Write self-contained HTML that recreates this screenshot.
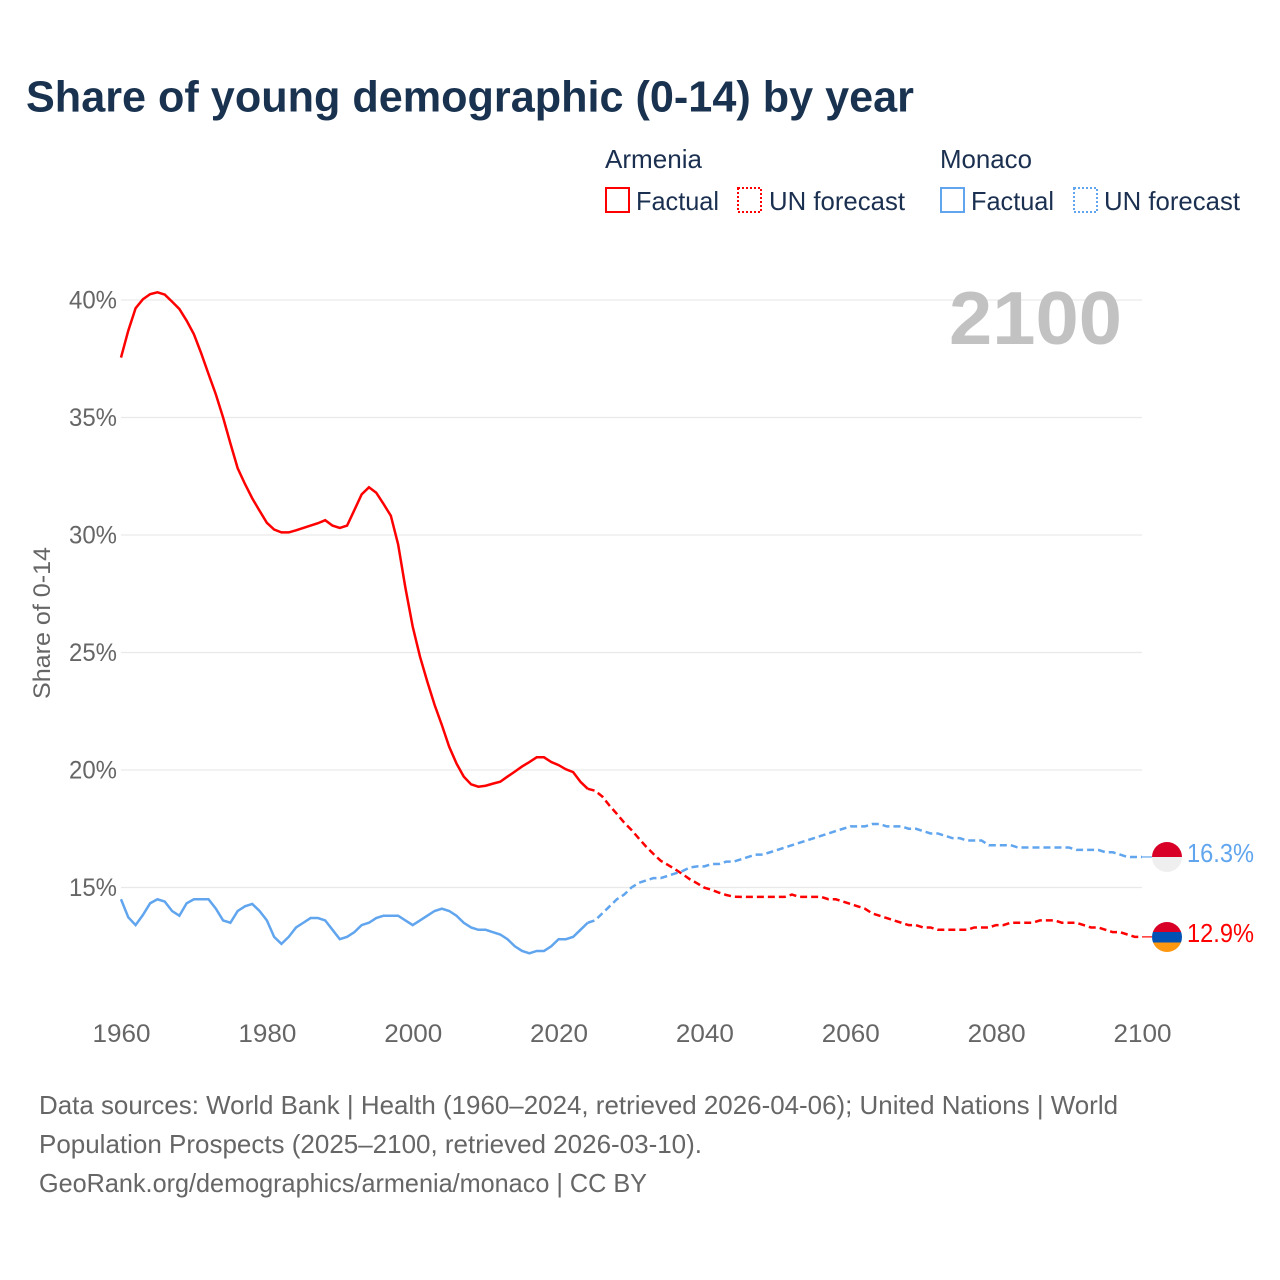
<!DOCTYPE html>
<html lang="en">
<head>
<meta charset="utf-8">
<title>Share of young demographic (0-14) by year</title>
<style>
html,body{margin:0;padding:0;background:#fff;}
svg{display:block;}
text{font-family:"Liberation Sans",sans-serif;}
</style>
</head>
<body>
<svg id="chart" xmlns="http://www.w3.org/2000/svg" width="1280" height="1280" viewBox="0 0 1280 1280">
  <rect width="1280" height="1280" fill="#ffffff"/>
  <text x="26" y="111.5" font-size="44" font-weight="700" fill="#18324f" textLength="888" lengthAdjust="spacingAndGlyphs">Share of young demographic (0-14) by year</text>

  <g font-size="26" fill="#1b3050">
    <text x="605" y="168" textLength="97" lengthAdjust="spacingAndGlyphs">Armenia</text>
    <rect x="606" y="188" width="23" height="24" fill="none" stroke="#ff0000" stroke-width="2"/>
    <text x="636" y="210" textLength="83" lengthAdjust="spacingAndGlyphs">Factual</text>
    <rect x="738" y="188" width="23" height="24" fill="none" stroke="#ff0000" stroke-width="2" stroke-dasharray="2 2"/>
    <text x="769" y="210" textLength="136" lengthAdjust="spacingAndGlyphs">UN forecast</text>
    <text x="940" y="168" textLength="92" lengthAdjust="spacingAndGlyphs">Monaco</text>
    <rect x="941" y="188" width="23" height="24" fill="none" stroke="#60a5ee" stroke-width="2"/>
    <text x="971" y="210" textLength="83" lengthAdjust="spacingAndGlyphs">Factual</text>
    <rect x="1074" y="188" width="23" height="24" fill="none" stroke="#60a5ee" stroke-width="2" stroke-dasharray="2 2"/>
    <text x="1104" y="210" textLength="136" lengthAdjust="spacingAndGlyphs">UN forecast</text>
  </g>

  <g id="grid"></g>
  <text x="949" y="344" font-size="75" font-weight="700" fill="#c0c0c0" fill-opacity="0.97" textLength="173" lengthAdjust="spacingAndGlyphs">2100</text>
  <g id="yticks" font-size="25" fill="#666666"></g>
  <g id="xticks" font-size="25" fill="#666666"></g>
  <text transform="translate(50,623) rotate(-90)" text-anchor="middle" font-size="24.5" fill="#666666" textLength="152" lengthAdjust="spacingAndGlyphs">Share of 0-14</text>
  <g id="series"></g>

  <g>
    <clipPath id="clip-monaco"><circle cx="1167" cy="857" r="15"/></clipPath>
    <g id="flag-monaco-bands" clip-path="url(#clip-monaco)">
      <rect x="1152" y="842" width="30" height="15" fill="#d80027"/>
      <rect x="1152" y="857" width="30" height="15" fill="#efefef"/>
    </g>
  </g>
  <g>
    <clipPath id="clip-armenia"><circle cx="1167" cy="937" r="15"/></clipPath>
    <g id="flag-armenia-bands" clip-path="url(#clip-armenia)">
      <rect x="1152" y="922" width="30" height="10" fill="#d80027"/>
      <rect x="1152" y="932" width="30" height="10.5" fill="#0052b4"/>
      <rect x="1152" y="942.5" width="30" height="10" fill="#ff9811"/>
    </g>
  </g>
  <text id="label-monaco" x="1187" y="862" font-size="26" fill="#60a5ee" textLength="67" lengthAdjust="spacingAndGlyphs"></text>
  <text id="label-armenia" x="1187" y="942" font-size="26" fill="#ff0000" textLength="67" lengthAdjust="spacingAndGlyphs"></text>

  <g font-size="26" fill="#666666">
    <text x="39" y="1114" textLength="1079" lengthAdjust="spacingAndGlyphs">Data sources: World Bank | Health (1960–2024, retrieved 2026-04-06); United Nations | World</text>
    <text x="39" y="1153" textLength="663" lengthAdjust="spacingAndGlyphs">Population Prospects (2025–2100, retrieved 2026-03-10).</text>
    <text x="39" y="1192" textLength="608" lengthAdjust="spacingAndGlyphs">GeoRank.org/demographics/armenia/monaco | CC BY</text>
  </g>
</svg>
<script>
const startYear = 1960;
const forecastStartYear = 2024;
const yTickValues = [15, 20, 25, 30, 35, 40];
const xTickYears = [1960, 1980, 2000, 2020, 2040, 2060, 2080, 2100];
const armeniaValues = [
  37.55,38.7,39.65,40.03,40.25,40.33,40.23,39.93,39.62,39.12,
  38.54,37.73,36.85,35.99,35.0,33.9,32.84,32.17,31.56,31.03,
  30.52,30.23,30.11,30.11,30.2,30.3,30.4,30.5,30.63,30.4,
  30.3,30.4,31.06,31.73,32.03,31.8,31.32,30.82,29.6,27.75,
  26.1,24.82,23.76,22.77,21.91,20.99,20.28,19.72,19.39,19.29,
  19.33,19.42,19.5,19.72,19.93,20.15,20.34,20.54,20.54,20.34,
  20.21,20.03,19.91,19.5,19.2,19.12,18.87,18.48,18.13,17.76,
  17.45,17.09,16.74,16.43,16.14,15.96,15.77,15.57,15.35,15.18,
  14.99,14.9,14.78,14.68,14.61,14.6,14.6,14.6,14.6,14.6,
  14.6,14.6,14.7,14.6,14.6,14.6,14.6,14.5,14.5,14.4,
  14.3,14.2,14.1,13.9,13.8,13.7,13.6,13.5,13.4,13.4,
  13.3,13.3,13.2,13.2,13.2,13.2,13.2,13.3,13.3,13.3,
  13.4,13.4,13.5,13.5,13.5,13.5,13.6,13.6,13.6,13.5,
  13.5,13.5,13.4,13.3,13.3,13.2,13.1,13.1,13.0,12.9,
  12.9
];
const monacoValues = [
  14.5,13.73,13.4,13.83,14.33,14.5,14.4,14.0,13.8,14.33,
  14.5,14.5,14.5,14.1,13.6,13.5,14.0,14.2,14.3,14.0,
  13.6,12.9,12.6,12.9,13.3,13.5,13.7,13.7,13.6,13.2,
  12.8,12.9,13.1,13.4,13.5,13.7,13.8,13.8,13.8,13.6,
  13.4,13.6,13.8,14.0,14.1,14.0,13.8,13.5,13.3,13.2,
  13.2,13.1,13.0,12.8,12.5,12.3,12.2,12.3,12.3,12.5,
  12.8,12.8,12.9,13.2,13.5,13.6,13.9,14.2,14.5,14.7,
  15.0,15.2,15.3,15.4,15.4,15.5,15.6,15.7,15.85,15.9,
  15.9,16.0,16.0,16.1,16.1,16.2,16.3,16.4,16.4,16.5,
  16.6,16.7,16.8,16.9,17.0,17.1,17.2,17.3,17.4,17.5,
  17.6,17.6,17.6,17.7,17.7,17.6,17.6,17.6,17.5,17.5,
  17.4,17.3,17.3,17.2,17.1,17.1,17.0,17.0,17.0,16.8,
  16.8,16.8,16.8,16.7,16.7,16.7,16.7,16.7,16.7,16.7,
  16.7,16.6,16.6,16.6,16.6,16.5,16.5,16.4,16.3,16.3,
  16.3
];

const NS = 'http://www.w3.org/2000/svg';
const xOf = function (year) { return 121 + (year - 1960) * (1021 / 140); };
const yOf = function (value) { return 300 + (40 - value) * 23.5; };

function pointsFor(values, fromYear, toYear) {
  const pts = [];
  values.forEach(function (v, i) {
    const yr = startYear + i;
    if (yr >= fromYear && yr <= toYear) {
      pts.push(xOf(yr).toFixed(2) + ',' + yOf(v).toFixed(2));
    }
  });
  return pts.join(' ');
}

const gridGroup = document.getElementById('grid');
const yTickGroup = document.getElementById('yticks');
yTickValues.forEach(function (v) {
  const line = document.createElementNS(NS, 'line');
  
  
  line.setAttribute('x1', xOf(1960));
  line.setAttribute('x2', xOf(2100));
  line.setAttribute('y1', yOf(v));
  line.setAttribute('y2', yOf(v));
  line.setAttribute('stroke', '#e9e9e9');
  line.setAttribute('stroke-width', '1.3');
  gridGroup.appendChild(line);

  const label = document.createElementNS(NS, 'text');
  
  
  label.setAttribute('x', 69);
  label.setAttribute('y', yOf(v) + 8.5);
  label.setAttribute('textLength', '48');
  label.setAttribute('lengthAdjust', 'spacingAndGlyphs');
  label.textContent = v + '%';
  yTickGroup.appendChild(label);
});

const xTickGroup = document.getElementById('xticks');
xTickYears.forEach(function (yr) {
  const label = document.createElementNS(NS, 'text');
  
  
  label.setAttribute('x', xOf(yr) - 28.5);
  label.setAttribute('y', 1042);
  label.setAttribute('textLength', '58');
  label.setAttribute('lengthAdjust', 'spacingAndGlyphs');
  label.textContent = yr;
  xTickGroup.appendChild(label);
});

const seriesGroup = document.getElementById('series');

const armeniaFactualLine = document.createElementNS(NS, 'polyline');


armeniaFactualLine.setAttribute('points', pointsFor(armeniaValues, startYear, forecastStartYear));
armeniaFactualLine.setAttribute('fill', 'none');
armeniaFactualLine.setAttribute('stroke', '#ff0000');
armeniaFactualLine.setAttribute('stroke-width', '2.5');
seriesGroup.appendChild(armeniaFactualLine);

const armeniaForecastLine = document.createElementNS(NS, 'polyline');


armeniaForecastLine.setAttribute('points', pointsFor(armeniaValues, forecastStartYear, 2100));
armeniaForecastLine.setAttribute('fill', 'none');
armeniaForecastLine.setAttribute('stroke', '#ff0000');
armeniaForecastLine.setAttribute('stroke-width', '2.5');
armeniaForecastLine.setAttribute('stroke-dasharray', '7 4');
seriesGroup.appendChild(armeniaForecastLine);

const monacoFactualLine = document.createElementNS(NS, 'polyline');


monacoFactualLine.setAttribute('points', pointsFor(monacoValues, startYear, forecastStartYear));
monacoFactualLine.setAttribute('fill', 'none');
monacoFactualLine.setAttribute('stroke', '#60a5ee');
monacoFactualLine.setAttribute('stroke-width', '2.5');
seriesGroup.appendChild(monacoFactualLine);

const monacoForecastLine = document.createElementNS(NS, 'polyline');


monacoForecastLine.setAttribute('points', pointsFor(monacoValues, forecastStartYear, 2100));
monacoForecastLine.setAttribute('fill', 'none');
monacoForecastLine.setAttribute('stroke', '#60a5ee');
monacoForecastLine.setAttribute('stroke-width', '2.5');
monacoForecastLine.setAttribute('stroke-dasharray', '7 4');
seriesGroup.appendChild(monacoForecastLine);

const armeniaLast = armeniaValues[armeniaValues.length - 1];
const monacoLast = monacoValues[monacoValues.length - 1];

const armeniaConnector = document.createElementNS(NS, 'line');


armeniaConnector.setAttribute('x1', xOf(2100));
armeniaConnector.setAttribute('x2', 1152);
armeniaConnector.setAttribute('y1', yOf(armeniaLast));
armeniaConnector.setAttribute('y2', yOf(armeniaLast));
armeniaConnector.setAttribute('stroke', '#ff0000');
armeniaConnector.setAttribute('stroke-width', '1.5');
armeniaConnector.setAttribute('stroke-opacity', '0.8');
seriesGroup.appendChild(armeniaConnector);

const monacoConnector = document.createElementNS(NS, 'line');


monacoConnector.setAttribute('x1', xOf(2100));
monacoConnector.setAttribute('x2', 1152);
monacoConnector.setAttribute('y1', yOf(monacoLast));
monacoConnector.setAttribute('y2', yOf(monacoLast));
monacoConnector.setAttribute('stroke', '#60a5ee');
monacoConnector.setAttribute('stroke-width', '1.5');
monacoConnector.setAttribute('stroke-opacity', '0.8');
seriesGroup.appendChild(monacoConnector);

document.getElementById('label-armenia').textContent = armeniaLast.toFixed(1) + '%';
document.getElementById('label-monaco').textContent = monacoLast.toFixed(1) + '%';
</script>
</body>
</html>
